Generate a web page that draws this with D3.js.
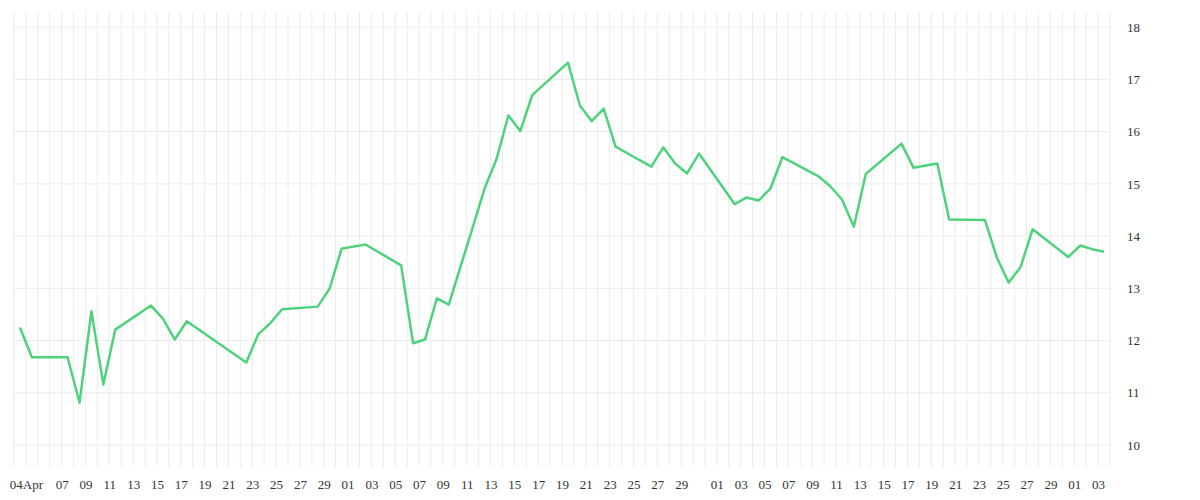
<!DOCTYPE html>
<html>
<head>
<meta charset="utf-8">
<script src="https://cdn.jsdelivr.net/npm/d3@7"></script>
<style>
  body { margin: 0; background: #fff; }
  .grid line { stroke: #ececec; stroke-width: 1; }
  .axis text { font-family: "Liberation Serif", serif; font-size: 13px; fill: #333; }
</style>
</head>
<body>
<svg id="chart" width="1200" height="500"></svg>
<script>
// day offsets from 3 Apr (points sit at noon)
var dayIndex = [0,1,4,5,6,7,8,11,12,13,14,19,20,21,22,25,26,27,29,32,33,34,35,36,37,38,39,40,41,42,43,46,47,48,49,50,53,54,55,56,57,60,61,62,63,64,67,68,69,70,71,74,75,77,78,81,82,83,84,85,88,89,90,91];
var values = [12.25,11.68,11.68,10.81,12.56,11.16,12.21,12.67,12.42,12.02,12.37,11.58,12.12,12.33,12.6,12.65,13.0,13.76,13.84,13.44,11.95,12.02,12.81,12.69,13.43,14.16,14.91,15.47,16.31,16.01,16.70,17.32,16.50,16.20,16.44,15.71,15.33,15.70,15.39,15.20,15.58,14.61,14.74,14.68,14.91,15.51,15.15,14.96,14.70,14.18,15.19,15.77,15.31,15.39,14.32,14.31,13.59,13.11,13.41,14.13,13.60,13.82,13.75,13.70];
var yTicks = [10,11,12,13,14,15,16,17,18];

var start = new Date(2023, 3, 3);
var end = new Date(2023, 6, 4);

var data = dayIndex.map(function(k, i) {
    return { date: d3.timeHour.offset(d3.timeDay.offset(start, k), 12), value: values[i] };
});

var svg = d3.select("#chart");
var plot = { left: 14, right: 1110, top: 12, bottom: 467 };

var xScale = d3.scaleTime().domain([start, end]).range([plot.left, plot.right]);
var yScale = d3.scaleLinear().domain([9.58, 18.29]).range([plot.bottom, plot.top]);

// grid
var grid = svg.append("g").attr("class", "grid");
grid.selectAll("line.v")
    .data(d3.timeDay.range(start, d3.timeDay.offset(end, 1)))
    .enter().append("line")
    .attr("x1", function(d){ return xScale(d); })
    .attr("x2", function(d){ return xScale(d); })
    .attr("y1", plot.top).attr("y2", plot.bottom);
grid.selectAll("line.h")
    .data(yTicks)
    .enter().append("line")
    .attr("x1", plot.left).attr("x2", plot.right)
    .attr("y1", function(d){ return yScale(d); })
    .attr("y2", function(d){ return yScale(d); });

// x axis ticks: 04Apr then odd days up to 29
var xTicks = [new Date(2023, 3, 4)].concat(
    d3.timeDay.range(new Date(2023, 3, 7), end).filter(function(d){
        return d.getDate() % 2 === 1 && d.getDate() < 30;
    }));
var xAxis = d3.axisBottom(xScale)
    .tickValues(xTicks)
    .tickSize(0)
    .tickFormat(function(d, i){ return i === 0 ? "04Apr" : d3.timeFormat("%d")(d); });
svg.append("g").attr("class", "axis")
    .attr("transform", "translate(0," + (plot.bottom + 10) + ")")
    .call(xAxis)
    .call(function(g){ g.select(".domain").remove(); });

var yAxis = d3.axisRight(yScale).tickValues(yTicks).tickSize(0).tickPadding(0);
svg.append("g").attr("class", "axis")
    .attr("transform", "translate(1127,0)")
    .call(yAxis)
    .call(function(g){ g.select(".domain").remove(); });

var line = d3.line()
    .x(function(d){ return xScale(d.date); })
    .y(function(d){ return yScale(d.value); });

svg.append("path")
    .datum(data)
    .attr("d", line)
    .attr("fill", "none")
    .attr("stroke", "#4fd27c")
    .attr("stroke-width", 2.5)
    .attr("stroke-linejoin", "round");
</script>
</body>
</html>
